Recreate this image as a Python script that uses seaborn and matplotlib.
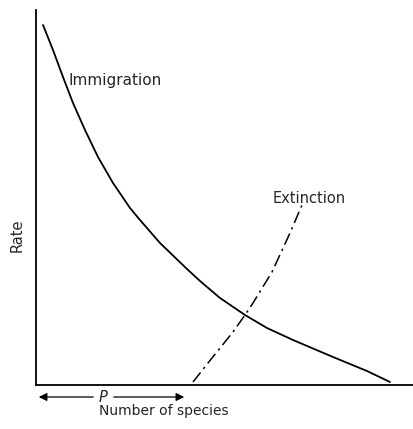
import seaborn as sns
import pandas as pd
import matplotlib.pyplot as plt

# curves (arbitrary units)
imm_x = [7, 17, 27, 37, 49, 62, 77, 94, 104, 124, 151, 164, 184, 209, 231, 257, 297, 331, 354]
imm_y = [360, 335, 308, 282, 255, 228, 202, 177, 165, 142, 116, 104, 87, 70, 57, 45, 28, 14, 3]
ext_x = [157, 176, 197, 209, 217, 236, 254, 266]
ext_y = [3, 27, 53, 70, 82, 113, 152, 180]

imm = pd.DataFrame({'species': imm_x, 'rate': imm_y})
ext = pd.DataFrame({'species': ext_x, 'rate': ext_y})

sns.set_style('white')
plt.rcParams['font.family'] = ['DejaVu Sans']

fig = plt.figure(figsize=(4.13, 4.29), dpi=100)
ax = fig.add_axes([36/413, 44/429, 377/413, 375/429])

sns.lineplot(data=imm, x='species', y='rate', color='black', lw=1.3, ax=ax)
sns.lineplot(data=ext, x='species', y='rate', color='black', lw=1.1,
             linestyle=(0, (8, 3, 1.5, 3)), ax=ax)

ax.set_xlim(0, 377)
ax.set_ylim(0, 375)
ax.set_xticks([])
ax.set_yticks([])
sns.despine(ax=ax)
for s in ['left', 'bottom']:
    ax.spines[s].set_color('black')
    ax.spines[s].set_linewidth(1.3)

ax.set_xlabel('Number of species', fontsize=10, labelpad=14, x=0.34)
ax.set_ylabel('Rate', fontsize=10.5, labelpad=8, y=0.4)

ax.text(32, 300, 'Immigration', fontsize=11)
ax.text(237, 182, 'Extinction', fontsize=10.5)

# P arrow under the axis
ax.text(67, -12, 'P', fontsize=10.5, style='italic', ha='center', va='center')
arr = dict(arrowstyle='-|>', color='black', lw=0.9, mutation_scale=12)
ax.annotate('', xy=(0, -12), xytext=(60, -12), arrowprops=arr, annotation_clip=False)
ax.annotate('', xy=(151, -12), xytext=(75, -12), arrowprops=arr, annotation_clip=False)

plt.savefig('out.png', dpi=100)
